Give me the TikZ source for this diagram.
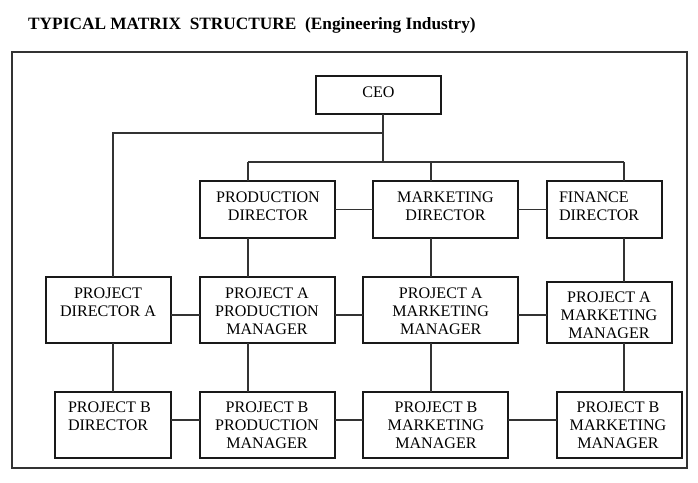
\documentclass[tikz,border=0pt]{standalone}
\usepackage{fontspec}
\setmainfont{Liberation Serif}
\begin{document}
\begin{tikzpicture}[x=1pt,y=-1pt,
  box/.style={draw=black!90,line width=1.2pt,rectangle,inner sep=0pt,outer sep=0pt},
  lbl/.style={inner sep=0pt,outer sep=0pt,align=center,font=\fontsize{16.1}{18}\selectfont},
  lbll/.style={lbl,align=left},
  link/.style={draw=black!80,line width=1.2pt}]
\useasboundingbox (0,0) rectangle (698,482);
% title
\node[anchor=base west,inner sep=0pt,font=\bfseries\fontsize{17.3}{20}\selectfont] (title) at (28,29.5)
  {TYPICAL MATRIX\ \ STRUCTURE\ \ (Engineering Industry)};
% frame
\node[draw=black!80,line width=1.4pt,rectangle,inner sep=0pt,minimum width=675,minimum height=416] (frame) at (349.5,260) {};
% boxes
\node[box,minimum width=125,minimum height=38] (ceo) at (378.5,95) {};
\node[box,minimum width=135,minimum height=57] (prod) at (267.5,209.5) {};
\node[box,minimum width=145,minimum height=57] (mkt) at (445.5,209.5) {};
\node[box,minimum width=115,minimum height=57] (fin) at (604.5,209.5) {};
\node[box,minimum width=125,minimum height=66] (pda) at (108.5,310) {};
\node[box,minimum width=135,minimum height=66] (papm) at (267.5,310) {};
\node[box,minimum width=155,minimum height=66] (pamm) at (440.5,310) {};
\node[box,minimum width=125,minimum height=61] (pamf) at (609.5,312.5) {};
\node[box,minimum width=116,minimum height=66] (pbd) at (113,425) {};
\node[box,minimum width=135,minimum height=66] (pbpm) at (267.5,425) {};
\node[box,minimum width=145,minimum height=66] (pbmm) at (435.5,425) {};
\node[box,minimum width=125,minimum height=66] (pbmf) at (619.5,425) {};
% labels
\node[lbl] (ceoT) at (378.5,92) {CEO};
\node[lbl] (prodT) at (268,206) {PRODUCTION\\DIRECTOR};
\node[lbl] (mktT) at (445.5,206) {MARKETING\\DIRECTOR};
\node[lbll,anchor=west] (finT) at (559,206) {FINANCE\\DIRECTOR};
\node[lbl] (pdaT) at (108,302.5) {PROJECT\\DIRECTOR A};
\node[lbl] (papmT) at (267,311) {PROJECT A\\PRODUCTION\\MANAGER};
\node[lbl] (pammT) at (440.7,311) {PROJECT A\\MARKETING\\MANAGER};
\begin{scope}
\clip (547,282) rectangle (672,337.5);
\node[lbl] (pamfT) at (609,315.5) {PROJECT A\\MARKETING\\MANAGER};
\end{scope}
\node[lbll,anchor=west] (pbdT) at (68,416.5) {PROJECT B\\DIRECTOR};
\node[lbl] (pbpmT) at (267,425.3) {PROJECT B\\PRODUCTION\\MANAGER};
\node[lbl] (pbmmT) at (436,425.3) {PROJECT B\\MARKETING\\MANAGER};
\node[lbl] (pbmfT) at (618,425.3) {PROJECT B\\MARKETING\\MANAGER};
% junction coordinates
\coordinate (j1) at (383,133);
\coordinate (j2) at (383,162);
\coordinate (bP) at (248,162);
\coordinate (bM) at (431,162);
\coordinate (bF) at (624,162);
\coordinate (r2) at (0,315);
\coordinate (r3) at (0,420);
% connectors
\draw[link] (j1 |- ceo.south) -- (j2);
\draw[link] (j1) -| (pbd.north |- pda.north);
\draw[link] (pbd.north |- pda.south) -- (pbd.north);
\draw[link] (bP) -- (bF);
\draw[link] (bP) -- (bP |- prod.north);
\draw[link] (bM) -- (bM |- mkt.north);
\draw[link] (bF) -- (bF |- fin.north);
\draw[link] (bP |- prod.south) -- (bP |- papm.north);
\draw[link] (bM |- mkt.south) -- (bM |- pamm.north);
\draw[link] (bF |- fin.south) -- (bF |- pamf.north);
\draw[link] (bP |- papm.south) -- (bP |- pbpm.north);
\draw[link] (bM |- pamm.south) -- (bM |- pbmm.north);
\draw[link] (bF |- pamf.south) -- (bF |- pbmf.north);
\draw[link] (prod.east) -- (mkt.west);
\draw[link] (mkt.east) -- (fin.west);
\draw[link] (pda.east |- r2) -- (papm.west |- r2);
\draw[link] (papm.east |- r2) -- (pamm.west |- r2);
\draw[link] (pamm.east |- r2) -- (pamf.west |- r2);
\draw[link] (pbd.east |- r3) -- (pbpm.west |- r3);
\draw[link] (pbpm.east |- r3) -- (pbmm.west |- r3);
\draw[link] (pbmm.east |- r3) -- (pbmf.west |- r3);
\end{tikzpicture}
\end{document}
